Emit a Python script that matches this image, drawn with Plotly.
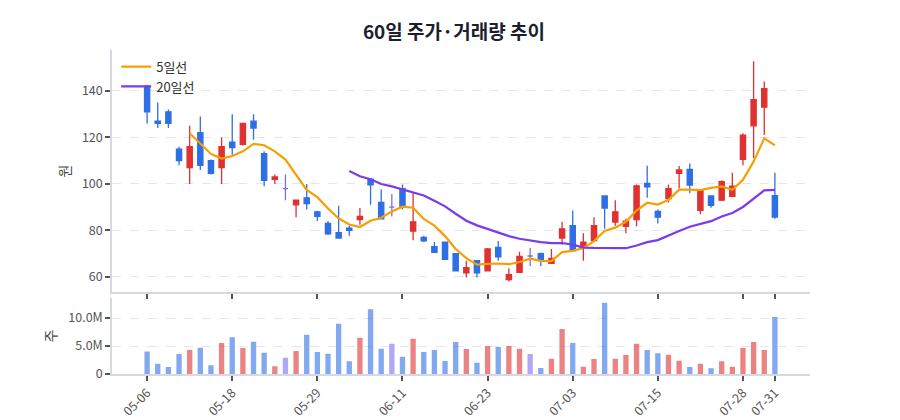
import pandas as pd
import plotly.graph_objs as go
from plotly.subplots import make_subplots

dates = [
    "05-06", "05-07", "05-08", "05-11", "05-12", "05-13", "05-14", "05-15", "05-18", "05-19",
    "05-20", "05-21", "05-22", "05-26", "05-27", "05-28", "05-29", "06-01", "06-02", "06-04",
    "06-05", "06-08", "06-09", "06-10", "06-11", "06-12", "06-15", "06-16", "06-17", "06-18",
    "06-19", "06-22", "06-23", "06-24", "06-25", "06-26", "06-29", "06-30", "07-01", "07-02",
    "07-03", "07-06", "07-07", "07-08", "07-09", "07-10", "07-13", "07-14", "07-15", "07-16",
    "07-17", "07-20", "07-21", "07-22", "07-23", "07-27", "07-28", "07-29", "07-30", "07-31",
]
opens = [
    142, 127, 131, 115, 107, 122, 110, 107, 118, 117,
    127, 113, 102, 98, 91, 94, 88, 83, 79, 81,
    84.6, 102, 92, 90, 98, 79.7, 77, 73, 75, 70,
    61.7, 67, 62.6, 72.7, 58.8, 62, 69, 70, 65.8, 76.7,
    82, 73.5, 75.6, 94.8, 83.6, 81.8, 84.7, 100.2, 88.2, 93.7,
    104.5, 106.2, 88.6, 94.8, 93, 94.7, 110.6, 125, 133, 95,
]
highs = [
    142.5, 135, 132, 116, 125, 129, 110.5, 120, 130, 126.3,
    130, 114, 104, 104, 93.2, 100, 88.5, 84, 90.6, 82,
    89.6, 102.5, 97.6, 95.7, 99.7, 96, 77.7, 75, 75.1, 70.2,
    67, 67.2, 72.4, 75.5, 63.7, 70.8, 72.4, 70.5, 72, 83.7,
    88.6, 78.8, 85.7, 94.8, 93, 85, 99.7, 107.8, 89, 99.7,
    107.7, 108.8, 97.3, 94.8, 101.6, 104.8, 121.8, 152.8, 144, 104.8,
]
lows = [
    126, 124, 124, 108, 100, 106, 104, 100, 112.5, 116.5,
    119, 99, 100, 93, 85.7, 89, 84, 78, 76.5, 77.7,
    82.4, 91, 85, 86, 89, 75.8, 75, 70.6, 67.5, 62.5,
    59.7, 59.7, 62.3, 67, 58, 62, 64.7, 64.7, 65.8, 73.8,
    71, 67, 75.6, 80.7, 82, 78.8, 81.8, 94, 83, 92,
    98, 96, 86.9, 89.8, 92.7, 94.7, 108, 111, 121, 85,
]
closes = [
    131, 126, 126, 110, 116, 108, 104.5, 116, 115.6, 126,
    124, 101.5, 103, 98, 93, 91.5, 86, 78.5, 76.7, 80,
    86, 99.6, 85, 90, 90.4, 83.7, 75.5, 70.6, 67.6, 62.6,
    64, 61.7, 72, 68.6, 61, 68.8, 69, 67, 68, 80.7,
    71.3, 75, 82, 89.6, 88, 84, 99.2, 98.7, 85.7, 98,
    106, 99.5, 97.3, 90.8, 101, 99, 121, 136.2, 141, 85.7,
]
volumes = [
    4000000, 1850000, 1250000, 3570000, 4290000, 4700000, 1550000, 5540000, 6550000, 4640000,
    5770000, 3810000, 1370000, 2920000, 4110000, 7020000, 3930000, 3630000, 8990000, 2260000,
    6490000, 11550000, 4520000, 5420000, 3100000, 6310000, 3930000, 4290000, 2320000, 5710000,
    4460000, 2020000, 5000000, 4820000, 5000000, 4520000, 3570000, 1070000, 2740000, 8040000,
    5540000, 1310000, 2680000, 12740000, 2740000, 3390000, 5420000, 4290000, 3690000, 3450000,
    2380000, 1250000, 1850000, 1010000, 2260000, 1310000, 4640000, 5710000, 4290000, 10180000,
]
tick_dates = ["05-06", "05-18", "05-29", "06-11", "06-23", "07-03", "07-15", "07-28", "07-31"]

RED = "#e03131"
BLUE = "#2f6fe6"
FLAT = "#7b6cf0"
FONT = "Noto Sans CJK KR"

df = pd.DataFrame({"date": dates, "open": opens, "high": highs, "low": lows,
                   "close": closes, "volume": volumes})
df["ma5"] = df["close"].rolling(5).mean()
df["ma20"] = df["close"].rolling(20).mean()


def candle_color(o, c):
    if c > o:
        return RED
    if c < o:
        return BLUE
    return FLAT


df["color"] = [candle_color(o, c) for o, c in zip(df["open"], df["close"])]

fig = make_subplots(rows=2, cols=1, shared_xaxes=True)

moving = df[df["open"] != df["close"]]
flat = df[df["open"] == df["close"]]

fig.add_trace(go.Candlestick(
    x=moving["date"], open=moving["open"], high=moving["high"],
    low=moving["low"], close=moving["close"],
    increasing=dict(line=dict(color=RED, width=1.3), fillcolor=RED),
    decreasing=dict(line=dict(color=BLUE, width=1.3), fillcolor=BLUE),
    showlegend=False, hoverinfo="skip"), row=1, col=1)
fig.add_trace(go.Candlestick(
    x=flat["date"], open=flat["open"], high=flat["high"],
    low=flat["low"], close=flat["close"],
    increasing=dict(line=dict(color=FLAT, width=1.3), fillcolor=FLAT),
    decreasing=dict(line=dict(color=FLAT, width=1.3), fillcolor=FLAT),
    showlegend=False, hoverinfo="skip"), row=1, col=1)

fig.add_trace(go.Scatter(x=df["date"], y=df["ma5"], mode="lines", name="5일선",
                         line=dict(color="#f59f00", width=2.2)), row=1, col=1)
fig.add_trace(go.Scatter(x=df["date"], y=df["ma20"], mode="lines", name="20일선",
                         line=dict(color="#7c3aed", width=2.2)), row=1, col=1)

fig.add_trace(go.Bar(x=df["date"], y=df["volume"], width=0.5,
                     marker=dict(color=df["color"], opacity=0.6, line=dict(width=0)),
                     showlegend=False, hoverinfo="skip"), row=2, col=1)

axis_common = dict(showline=True, linecolor="#d5d9e0", linewidth=1.5,
                   ticks="outside", ticklen=5, tickcolor="#555", tickwidth=1.5,
                   tickfont=dict(size=12.5, color="#555"), automargin=False)

fig.update_xaxes(type="category", categoryorder="array", categoryarray=dates,
                 range=[-3.3, 62.3], tickvals=tick_dates, showgrid=False,
                 rangeslider=dict(visible=False), **axis_common)
fig.update_xaxes(showticklabels=False, row=1, col=1)
fig.update_xaxes(tickangle=-45, row=2, col=1)

fig.update_yaxes(showgrid=True, gridcolor="#e6e6e6", griddash="dash", zeroline=False,
                 **axis_common)
fig.update_yaxes(range=[53.5, 157.6], tickvals=[60, 80, 100, 120, 140],
                 title=dict(text="원", font=dict(size=14, color="#444"), standoff=8),
                 row=1, col=1)
fig.update_yaxes(range=[0, 13.6e6], tickvals=[0, 5e6, 10e6],
                 ticktext=["0", "5.0M", "10.0M"],
                 title=dict(text="주", font=dict(size=14, color="#444"), standoff=8),
                 row=2, col=1)

# the page body adds an 8px offset, so margins are shifted to compensate
fig.update_layout(
    width=900, height=420,
    margin=dict(l=104, r=98, t=42, b=54, autoexpand=False),
    paper_bgcolor="white", plot_bgcolor="white",
    font=dict(family=FONT, color="#444"),
    title=dict(text="<b>60일 주가·거래량 추이</b>", x=0.4955, xanchor="center",
               y=0.943, yanchor="middle",
               font=dict(size=19, color="#1a1f2e", family=FONT)),
    legend=dict(x=0.006, y=0.995, xanchor="left", yanchor="top",
                bgcolor="rgba(255,255,255,0)", font=dict(size=13, color="#333")),
    bargap=0.5,
    yaxis=dict(domain=[0.253, 1.0]),
    yaxis2=dict(domain=[0.0, 0.235]),
)

fig.write_html("out.html")
